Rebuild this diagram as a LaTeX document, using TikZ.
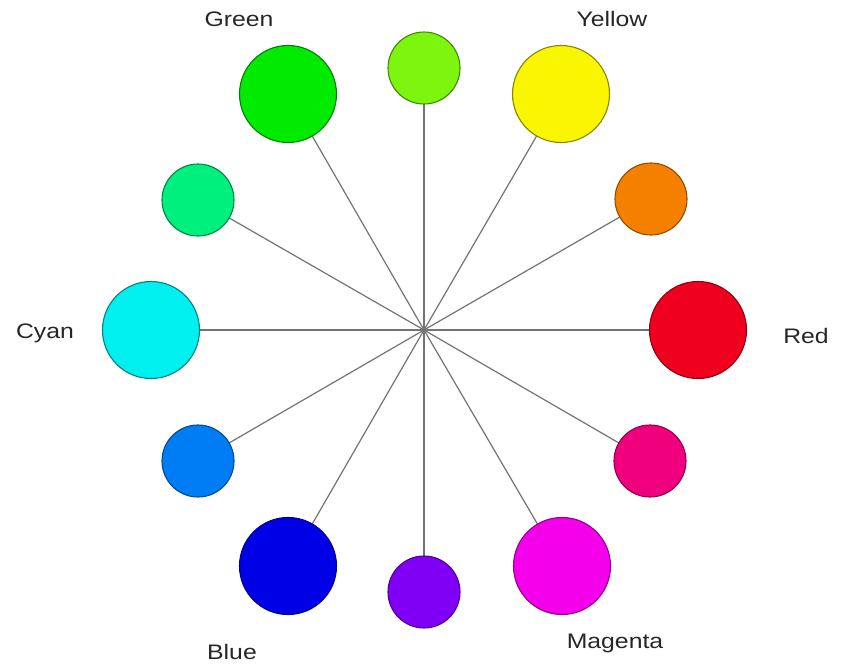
\documentclass[tikz,border=0pt]{standalone}
\usepackage{fontspec}
\setmainfont{Liberation Sans}
\definecolor{cRed}{RGB}{240,0,30}
\definecolor{cOrange}{RGB}{245,128,0}
\definecolor{cYellow}{RGB}{250,245,0}
\definecolor{cChart}{RGB}{125,245,15}
\definecolor{cGreen}{RGB}{0,235,0}
\definecolor{cSpring}{RGB}{0,240,125}
\definecolor{cCyan}{RGB}{0,240,240}
\definecolor{cAzure}{RGB}{0,125,245}
\definecolor{cBlue}{RGB}{0,0,230}
\definecolor{cViolet}{RGB}{128,0,245}
\definecolor{cMagenta}{RGB}{245,0,235}
\definecolor{cRose}{RGB}{240,0,125}
\tikzset{
  big/.style={circle, minimum size=97pt, inner sep=0pt, line width=1.1pt},
  small/.style={circle, minimum size=72pt, inner sep=0pt, line width=1.1pt},
  spoke/.style={draw=black!55, line width=1.2pt},
  lab/.style={font=\fontsize{21}{24}\selectfont, text=black!85, xscale=1.18},
}
\begin{document}
\begin{tikzpicture}[x=1pt,y=-1pt]
\useasboundingbox (0,0) rectangle (841,664);
\coordinate (c) at (424,330);
\path
  (698,330) coordinate (pRed)
  (651,199) coordinate (pOrange)
  (561,94) coordinate (pYellow)
  (424,68) coordinate (pChart)
  (288,94) coordinate (pGreen)
  (198,200) coordinate (pSpring)
  (151,330) coordinate (pCyan)
  (198,461) coordinate (pAzure)
  (288,566) coordinate (pBlue)
  (424,592) coordinate (pViolet)
  (562,566) coordinate (pMagenta)
  (650,461) coordinate (pRose);
\foreach \p in {pRed,pOrange,pYellow,pChart,pGreen,pSpring,pCyan,pAzure,pBlue,pViolet,pMagenta,pRose}
  \draw[spoke] (c) -- (\p);
\node[big, fill=cRed, draw=cRed!60!black] (red) at (pRed) {};
\node[small, fill=cOrange, draw=cOrange!60!black] (orange) at (pOrange) {};
\node[big, fill=cYellow, draw=cYellow!55!black] (yellow) at (pYellow) {};
\node[small, fill=cChart, draw=cChart!55!black] (chart) at (pChart) {};
\node[big, fill=cGreen, draw=cGreen!55!black] (green) at (pGreen) {};
\node[small, fill=cSpring, draw=cSpring!55!black] (spring) at (pSpring) {};
\node[big, fill=cCyan, draw=cCyan!55!black] (cyan) at (pCyan) {};
\node[small, fill=cAzure, draw=cAzure!60!black] (azure) at (pAzure) {};
\node[big, fill=cBlue, draw=cBlue!60!black] (blue) at (pBlue) {};
\node[small, fill=cViolet, draw=cViolet!60!black] (violet) at (pViolet) {};
\node[big, fill=cMagenta, draw=cMagenta!60!black] (magenta) at (pMagenta) {};
\node[small, fill=cRose, draw=cRose!60!black] (rose) at (pRose) {};
\node[lab] (lGreen) at (239,19) {Green};
\node[lab] (lYellow) at (612,19) {Yellow};
\node[lab] (lCyan) at (45,333) {Cyan};
\node[lab] (lRed) at (806,336) {Red};
\node[lab] (lBlue) at (232,652) {Blue};
\node[lab] (lMagenta) at (615,643) {Magenta};
\end{tikzpicture}
\end{document}
